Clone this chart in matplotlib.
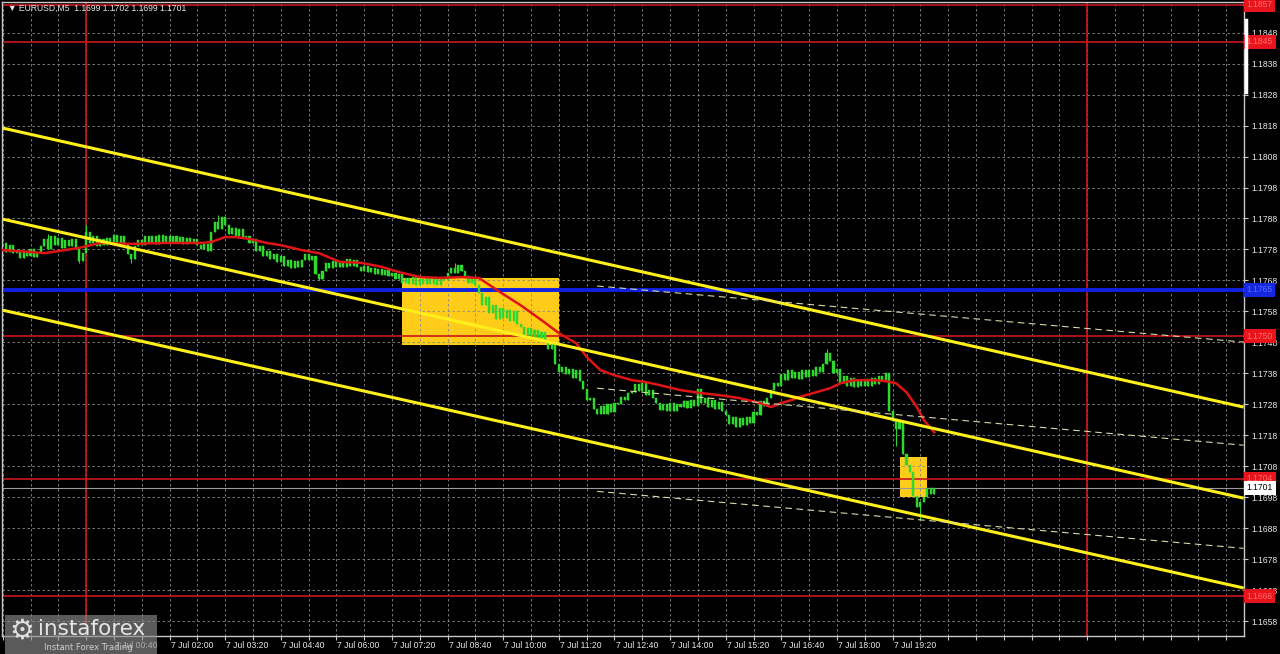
import numpy as np
import matplotlib.pyplot as plt
from matplotlib.patches import Rectangle
from matplotlib.lines import Line2D
from matplotlib.transforms import blended_transform_factory

# 5-minute EURUSD bars, bar 0 = 7 Jul 00:00
first_bar = -24
closes = [
    1.17800, 1.17772, 1.17795, 1.17770,
    1.17778, 1.17752, 1.17774, 1.17758, 1.17780, 1.17755, 1.17770, 1.17790,
    1.17815, 1.17780, 1.17825, 1.17795,
    1.17818, 1.17785, 1.17812, 1.17790, 1.17815, 1.17782,
    1.17742, 1.17770,
    1.17835,
    1.17800, 1.17822, 1.17790, 1.17815, 1.17795, 1.17818,
    1.17805, 1.17828, 1.17800, 1.17822, 1.17798,
    1.17765, 1.17748, 1.17790,
    1.17812, 1.17795, 1.17825, 1.17800, 1.17822, 1.17798, 1.17826, 1.17805, 1.17822,
    1.17800, 1.17825, 1.17802, 1.17820, 1.17798, 1.17818, 1.17800, 1.17815, 1.17795,
    1.17780, 1.17798, 1.17775,
    1.17835, 1.17870, 1.17845, 1.17885, 1.17860,
    1.17830, 1.17850, 1.17822, 1.17845, 1.17820,
    1.17825, 1.17800, 1.17815,
    1.17775, 1.17790, 1.17760, 1.17775,
    1.17748, 1.17765, 1.17740, 1.17758,
    1.17728, 1.17745, 1.17720, 1.17742, 1.17722, 1.17745,
    1.17765, 1.17745, 1.17760,
    1.17700, 1.17685, 1.17710,
    1.17735, 1.17720, 1.17742, 1.17722, 1.17740,
    1.17725, 1.17748, 1.17728, 1.17745, 1.17725,
    1.17712, 1.17728, 1.17708,
    1.17720, 1.17700, 1.17718, 1.17698, 1.17715, 1.17695,
    1.17705, 1.17685, 1.17700,
    1.17672, 1.17688, 1.17668, 1.17690, 1.17665, 1.17686, 1.17670, 1.17692,
    1.17668, 1.17688, 1.17665, 1.17690, 1.17680, 1.17705,
    1.17720, 1.17705, 1.17730, 1.17712,
    1.17695, 1.17672, 1.17690, 1.17665,
    1.17640, 1.17600, 1.17625,
    1.17575, 1.17600, 1.17555, 1.17590, 1.17560, 1.17585, 1.17550, 1.17580, 1.17540,
    1.17530, 1.17505, 1.17528, 1.17498, 1.17520, 1.17495, 1.17515,
    1.17480, 1.17460, 1.17478,
    1.17410, 1.17385, 1.17400, 1.17378,
    1.17395, 1.17365, 1.17390, 1.17355,
    1.17330, 1.17295, 1.17300, 1.17265,
    1.17250, 1.17275, 1.17248, 1.17280, 1.17255, 1.17285,
    1.17280, 1.17305, 1.17295, 1.17318,
    1.17320, 1.17345, 1.17322, 1.17348,
    1.17310, 1.17325, 1.17300,
    1.17285, 1.17262, 1.17282, 1.17258, 1.17285, 1.17260, 1.17280,
    1.17270, 1.17292, 1.17268, 1.17295, 1.17275,
    1.17330,
    1.17285, 1.17300, 1.17270, 1.17295, 1.17265, 1.17288, 1.17258,
    1.17245, 1.17215, 1.17240, 1.17208, 1.17235, 1.17212, 1.17240, 1.17220,
    1.17255, 1.17245,
    1.17290, 1.17275, 1.17300,
    1.17325, 1.17350, 1.17340, 1.17378,
    1.17360, 1.17390, 1.17365, 1.17385, 1.17362, 1.17392, 1.17368, 1.17390, 1.17370,
    1.17400, 1.17385, 1.17410,
    1.17445, 1.17420,
    1.17380, 1.17395,
    1.17350, 1.17370, 1.17340, 1.17365, 1.17335, 1.17360, 1.17338, 1.17362,
    1.17340, 1.17365, 1.17345,
    1.17372, 1.17355, 1.17380,
    1.17260, 1.17225,
    1.17200, 1.17225,
    1.17120, 1.17085, 1.17060,
    1.16985, 1.16950, 1.16965,
    1.16980, 1.17010, 1.16990, 1.17010,
]
spike_high_bars = [-11, 0, 38, 106, 213]
spike_high_values = [1.17830, 1.17859, 1.17892, 1.17735, 1.17460]
spike_low_bars = [-2, 13, 67, 233, 240]
spike_low_values = [1.17735, 1.17735, 1.17680, 1.17145, 1.16905]

# moving average (red)
ma_bars = [-24, -16, -12, -2, 4, 13, 23, 33, 36, 40, 43, 47, 52, 56, 62, 67, 73,
           79, 85, 90, 96, 102, 108, 113, 119, 125, 131, 136, 141, 144, 148, 152,
           157, 161, 165, 171, 177, 182, 188, 194, 197, 200, 203, 205, 210, 214,
           217, 221, 226, 230, 233, 236, 239, 241, 244]
ma_values = [1.17778, 1.17772, 1.17768, 1.17785, 1.17801, 1.17798, 1.17801,
             1.17801, 1.17804, 1.17820, 1.17820, 1.17814, 1.17801, 1.17794,
             1.17778, 1.17768, 1.17740, 1.17737, 1.17724, 1.17707, 1.17691,
             1.17688, 1.17691, 1.17688, 1.17643, 1.17600, 1.17552, 1.17510,
             1.17477, 1.17433, 1.17390, 1.17374, 1.17358, 1.17352, 1.17342,
             1.17326, 1.17316, 1.17310, 1.17300, 1.17284, 1.17271, 1.17284,
             1.17294, 1.17303, 1.17319, 1.17332, 1.17348, 1.17358, 1.17358,
             1.17355, 1.17348, 1.17319, 1.17271, 1.17229, 1.17190]

# channel lines (two anchor points each)
channel_bars = [-24, 333]
channel_upper = [1.18172, 1.17271]
channel_middle = [1.17878, 1.16977]
channel_lower = [1.17584, 1.16687]
dashed_bars = [147, 333]
dashed_upper = [1.17662, 1.17481]
dashed_middle = [1.17332, 1.17148]
dashed_lower = [1.16999, 1.16815]

red_levels = [1.1857, 1.1845, 1.1750, 1.1704, 1.1666]
blue_level = 1.1765
last_price = 1.1701
midnight_bars = [0, 288]

# yellow zones: (start bar, end bar, low, high)
zone_starts = [91, 234]
zone_ends = [136, 242]
zone_lows = [1.17471, 1.16981]
zone_highs = [1.17688, 1.17110]

x_left, x_right = -24.2, 333.1
y_low, y_high = 1.16532, 1.18579
label_font = 'Liberation Sans'

closes = np.array(closes)
bars = np.arange(len(closes)) + first_bar
opens = np.r_[closes[0], closes[:-1]]
highs = np.maximum(opens, closes)
lows = np.minimum(opens, closes)
for b, v in zip(spike_high_bars, spike_high_values):
    highs[b - first_bar] = max(highs[b - first_bar], v)
for b, v in zip(spike_low_bars, spike_low_values):
    lows[b - first_bar] = min(lows[b - first_bar], v)

fig = plt.figure(figsize=(12.8, 6.54), dpi=100, facecolor='black')
ax = fig.add_axes([2 / 1280, 18 / 654, 1242 / 1280, 634 / 654])
ax.set_facecolor('black')
ax.set_xlim(x_left, x_right)
ax.set_ylim(y_low, y_high)

# grid
grid_bars = np.arange(-24, 334, 8)
yticks = np.round(np.arange(1.1658, 1.18485, 0.001), 4)
ax.set_xticks(grid_bars)
ax.set_xticklabels([])
ax.set_yticks(yticks)
ax.yaxis.tick_right()
ax.set_yticklabels([f'{v:.4f}' for v in yticks], fontsize=6.2, color='#e8e8e8',
                   family=label_font)
ax.tick_params(axis='y', length=3, color='#c8c8c8', pad=2)
ax.tick_params(axis='x', length=3, color='#c8c8c8', direction='out')
ax.grid(color='#8a8a8a', linestyle=(0, (3, 3)), linewidth=0.6, zorder=0)
for s in ax.spines.values():
    s.set_color('#c8c8c8')
    s.set_linewidth(1)

# time labels
trans_x = blended_transform_factory(ax.transData, ax.transAxes)
for b in range(8, bars[-1] + 1, 16):
    minutes = b * 5
    ax.text(b + 0.3, -0.008, f'7 Jul {minutes // 60:02d}:{minutes % 60:02d}',
            transform=trans_x, fontsize=6.2, color='#e8e8e8', ha='left', va='top',
            family=label_font, clip_on=False)

# yellow zones
for x0, x1, lo, hi in zip(zone_starts, zone_ends, zone_lows, zone_highs):
    ax.add_patch(Rectangle((x0, lo), x1 - x0, hi - lo, facecolor='#ffcc1a',
                           edgecolor='none', zorder=1))

# horizontal / vertical levels
for lvl in red_levels:
    ax.axhline(lvl, color='#c8161c', lw=1.2, zorder=2)
for b in midnight_bars:
    ax.axvline(b, color='#d0161c', lw=1.2, zorder=2)
ax.axhline(blue_level, color='#1020e0', lw=2.8, zorder=2)
ax.axhline(last_price, color='#9a9a9a', lw=0.8, zorder=2)

# candles
green = '#2fd82f'
ax.vlines(bars, lows, highs, color=green, lw=0.8, zorder=3)
body_h = np.maximum(np.abs(closes - opens), 0.00002)
ax.bar(bars, body_h, bottom=np.minimum(opens, closes), width=0.6,
       color=green, edgecolor=green, linewidth=0.3, zorder=3)

# moving average
ax.plot(ma_bars, ma_values, color='#e01414', lw=1.8, zorder=4)

# channels
for vals in (channel_upper, channel_middle, channel_lower):
    ax.plot(channel_bars, vals, color='#ffef1a', lw=2.2, zorder=5,
            solid_capstyle='butt')
for vals in (dashed_upper, dashed_middle, dashed_lower):
    ax.plot(dashed_bars, vals, color='#d8d8a8', lw=0.8, ls=(0, (6, 4)), zorder=5)

# right-side price labels
trans_y = blended_transform_factory(ax.transAxes, ax.transData)
def price_tag(val, face, txt):
    ax.text(1.0022, val, f'{val:.4f}', transform=trans_y, fontsize=6.2,
            color=txt, ha='left', va='center', clip_on=False, zorder=10,
            family=label_font,
            bbox=dict(boxstyle='square,pad=0.3', facecolor=face, edgecolor='none'))

for lvl in red_levels:
    price_tag(lvl, '#e8141c', '#ff6a6a')
price_tag(blue_level, '#1428e0', '#5a6aff')
price_tag(last_price, 'white', 'black')

# header
fig.text(8 / 1280, 1 - 8 / 654, '▼ EURUSD,M5  1.1699 1.1702 1.1699 1.1701',
         fontsize=6.2, color='#e8e8e8', va='center', ha='left', family=label_font)

# scroll marker on the right axis
fig.add_artist(Line2D([1245.5 / 1280] * 2, [1 - 20 / 654, 1 - 92 / 654],
                      color='white', lw=2.5))

# logo
fig.add_artist(Rectangle((5 / 1280, 0), 152 / 1280, 39 / 654,
                         transform=fig.transFigure, facecolor='#8c8c8c',
                         edgecolor='none', alpha=0.65, zorder=20))
fig.text(22 / 1280, 1 - 631 / 654, '⚙', fontsize=20, color='#e0e0e0',
         ha='center', va='center', zorder=21)
fig.text(38 / 1280, 1 - 629 / 654, 'instaforex', fontsize=15.5, color='#e6e6e6',
         ha='left', va='center', zorder=21)
fig.text(44 / 1280, 1 - 647 / 654, 'Instant Forex Trading', fontsize=6,
         color='#d0d0d0', ha='left', va='center', zorder=21)

fig.savefig('out.png', dpi=100, facecolor='black')
